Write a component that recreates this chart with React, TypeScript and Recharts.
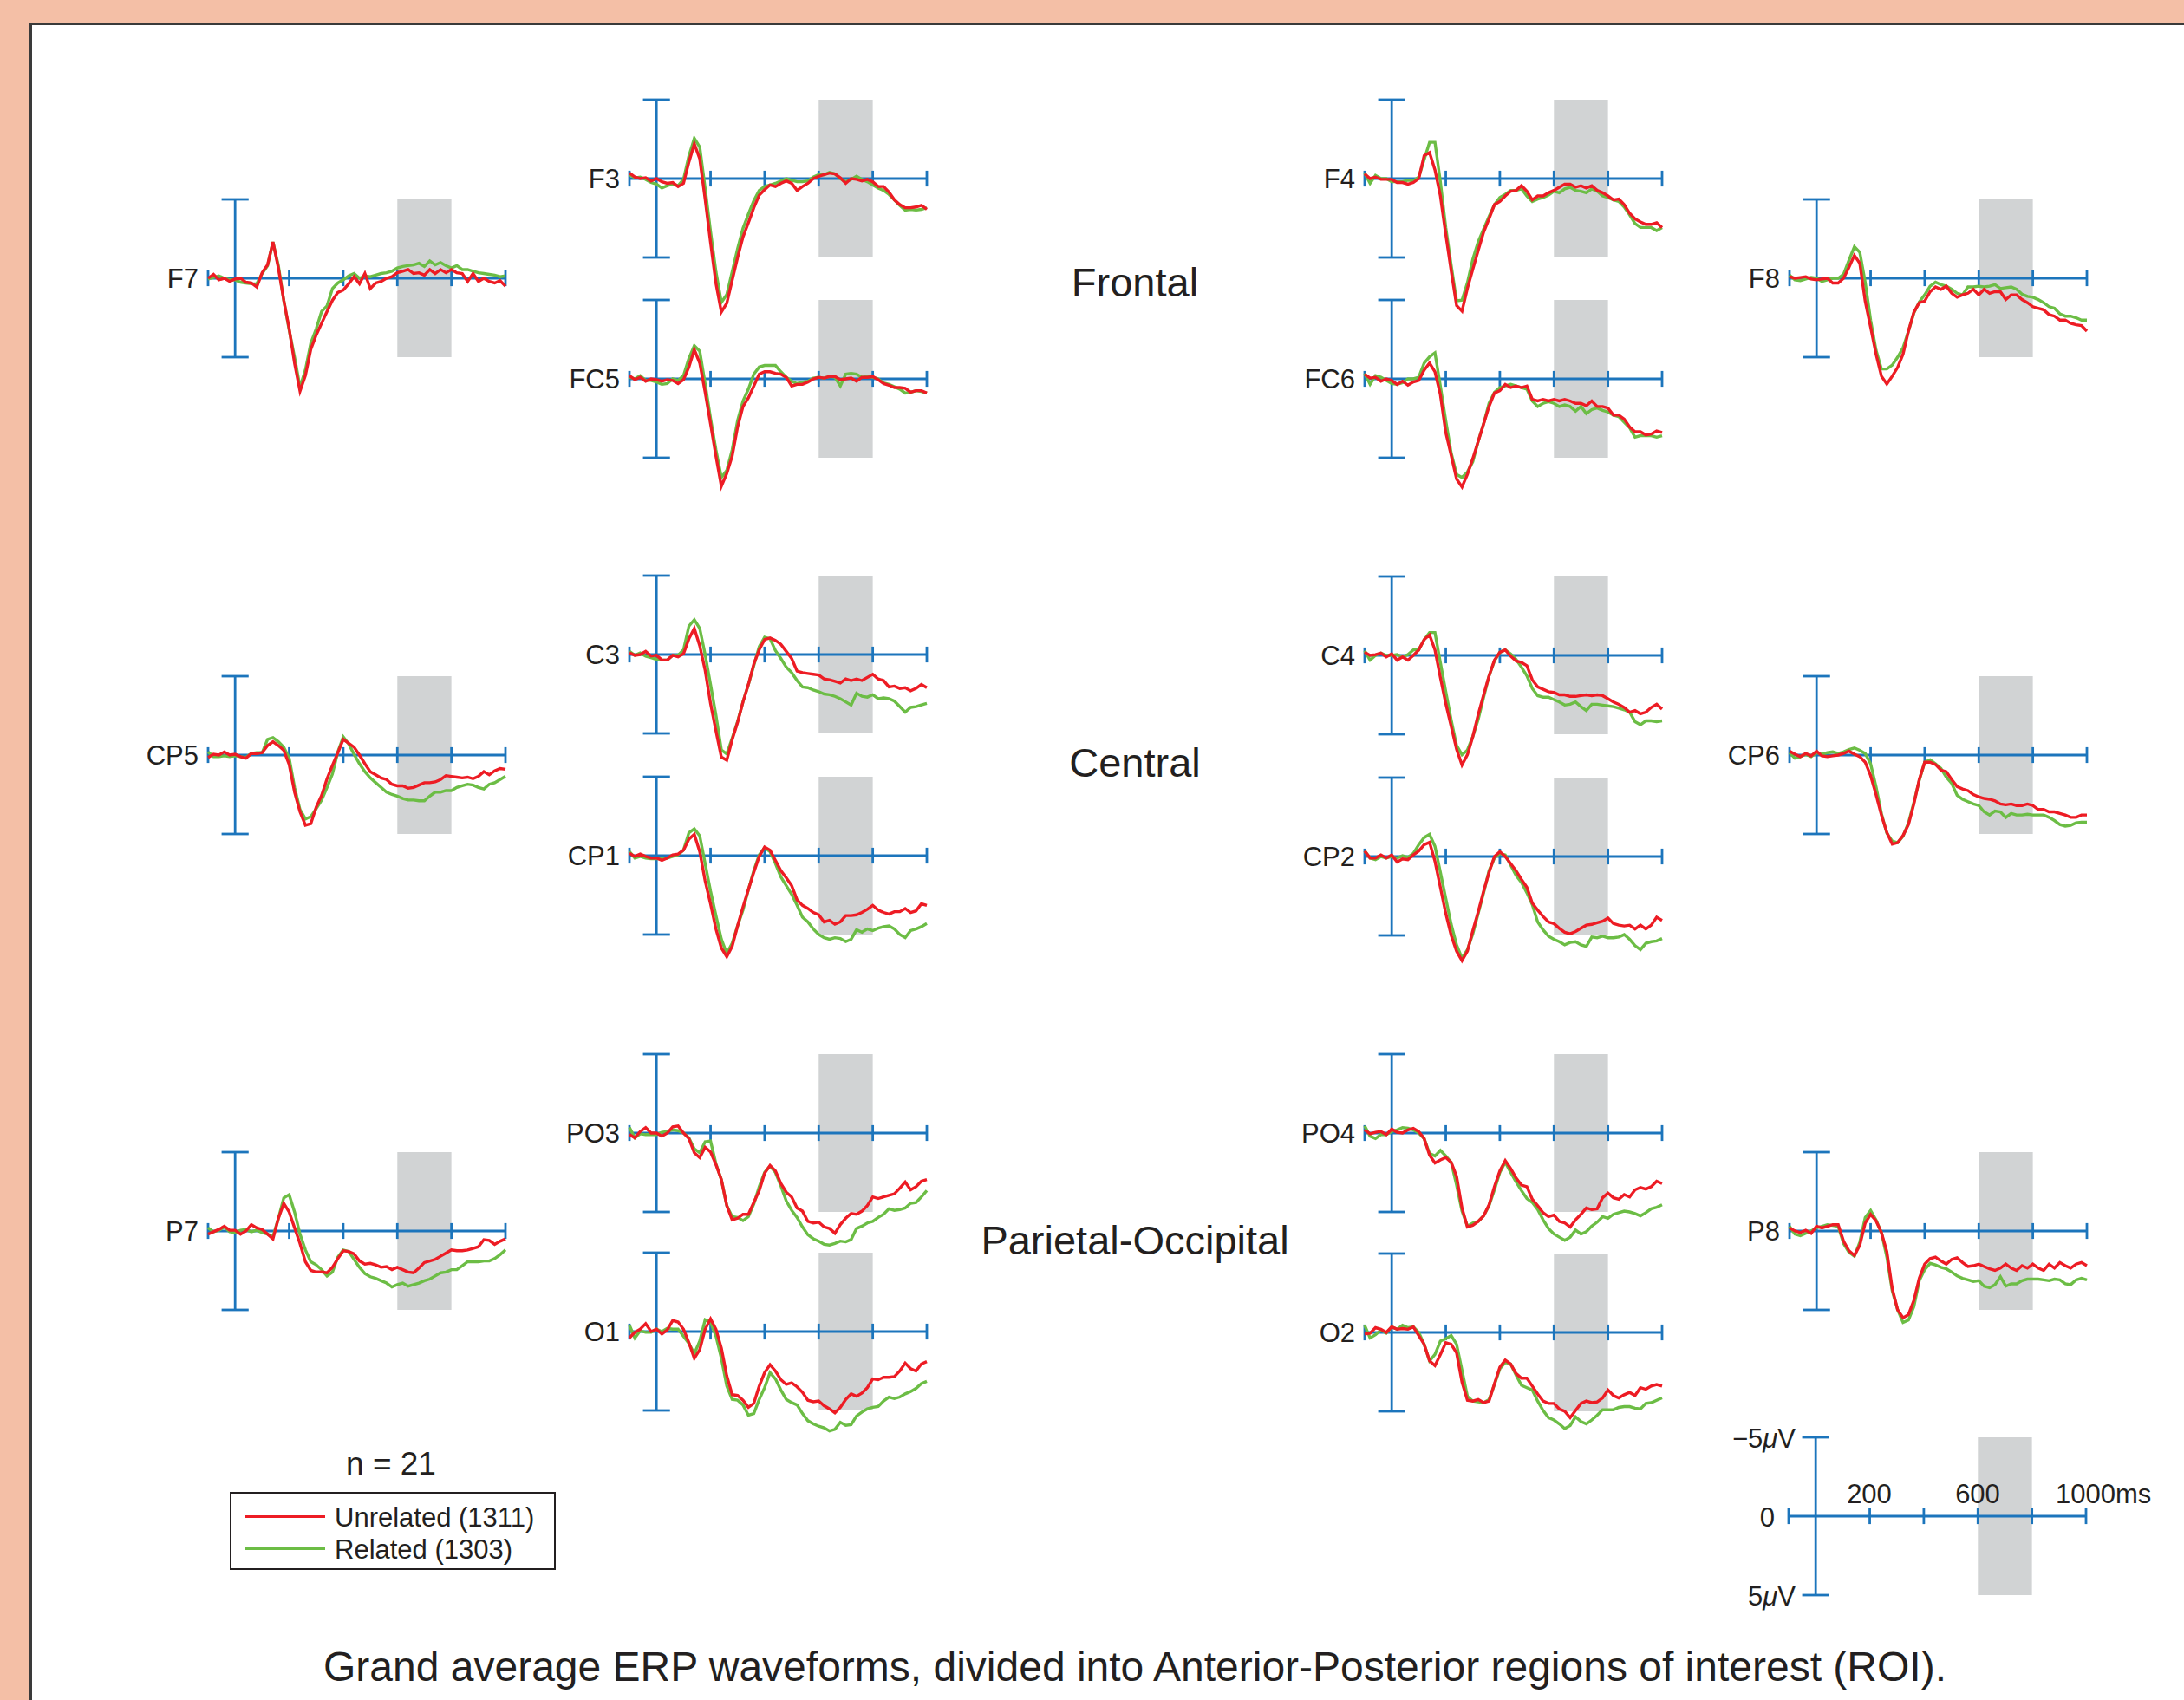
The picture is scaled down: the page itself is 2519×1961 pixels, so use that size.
import React from 'react'
import { LineChart, Line, XAxis, YAxis, ReferenceArea, ReferenceLine } from 'recharts'

// sample times (ms), one value every 20 ms
const TIMES = [
  -100, -80, -60, -40, -20, 0, 20, 40, 60, 80,
  100, 120, 140, 160, 180, 200, 220, 240, 260, 280,
  300, 320, 340, 360, 380, 400, 420, 440, 460, 480,
  500, 520, 540, 560, 580, 600, 620, 640, 660, 680,
  700, 720, 740, 760, 780, 800, 820, 840, 860, 880,
  900, 920, 940, 960, 980, 1000,
]

// amplitudes in µV (negative plotted up), UNREL = red, REL = green
const F7_UNREL = [
  0, -0.25, 0.1, 0, 0.2, 0.05, 0, 0.25, 0.3, 0.55,
  -0.35, -0.85, -2.3, -0.65, 1.4, 3.2, 5.4, 7.15, 6.15, 4.5,
  3.6, 2.85, 2.1, 1.4, 0.9, 0.75, 0.35, -0.1, 0.35, -0.3,
  0.65, 0.3, 0.2, 0, -0.1, -0.35, -0.45, -0.55, -0.3, -0.35,
  -0.2, -0.55, -0.3, -0.55, -0.35, -0.55, -0.35, -0.3, 0.2, -0.3,
  0.2, 0, 0.2, 0.3, 0.15, 0.5,
]
const F7_REL = [
  0.05, -0.05, -0.15, 0, 0.1, 0.1, 0.25, 0.3, 0.35, 0.35,
  -0.3, -0.8, -2.3, -0.8, 1.4, 3.3, 5.0, 6.9, 5.8, 4.1,
  3.2, 2.1, 1.75, 0.65, 0.3, 0.1, -0.15, -0.3, 0, -0.15,
  -0.1, -0.2, -0.3, -0.35, -0.45, -0.65, -0.75, -0.8, -0.85, -0.95,
  -0.75, -1.1, -0.85, -1.0, -0.8, -0.65, -0.8, -0.55, -0.55, -0.45,
  -0.35, -0.3, -0.25, -0.2, -0.1, -0.15,
]
const CP5_UNREL = [
  0.15, -0.05, 0, -0.2, 0, -0.05, 0.1, 0.2, -0.1, -0.1,
  -0.15, -0.6, -0.85, -0.6, -0.3, 0.6, 2.35, 3.6, 4.45, 4.35,
  3.3, 2.55, 1.5, 0.65, -0.15, -1.0, -0.75, -0.5, 0, 0.55,
  1.05, 1.25, 1.45, 1.55, 1.85, 1.95, 1.95, 2.1, 2.05, 1.9,
  1.75, 1.75, 1.7, 1.55, 1.3, 1.35, 1.4, 1.45, 1.4, 1.5,
  1.35, 1.05, 1.25, 1.0, 0.85, 0.9,
]
const CP5_REL = [
  -0.2, 0.1, 0.1, 0.05, 0.1, 0.05, 0.1, 0.15, -0.1, -0.15,
  -0.15, -1.0, -1.1, -0.85, -0.5, 0.2, 2.05, 3.45, 4.05, 3.9,
  3.4, 2.85, 2.05, 1.2, -0.2, -1.15, -0.7, -0.05, 0.55, 1.05,
  1.45, 1.75, 2.05, 2.35, 2.5, 2.6, 2.75, 2.85, 2.85, 2.9,
  2.9, 2.6, 2.35, 2.35, 2.25, 2.25, 2.05, 1.95, 1.85, 1.9,
  2.05, 2.15, 1.85, 1.75, 1.55, 1.35,
]
const P7_UNREL = [
  0.2, 0.05, -0.1, -0.3, -0.05, -0.05, 0.2, 0, -0.4, -0.2,
  -0.1, 0.2, 0.5, -0.8, -1.75, -1.2, -0.2, 0.8, 1.95, 2.5,
  2.6, 2.6, 2.65, 2.3, 1.75, 1.25, 1.3, 1.45, 1.9, 2.1,
  2.05, 2.15, 2.3, 2.25, 2.45, 2.3, 2.45, 2.6, 2.65, 2.35,
  2.0, 1.9, 1.8, 1.6, 1.4, 1.2, 1.25, 1.25, 1.2, 1.1,
  1.0, 0.55, 0.6, 0.85, 0.65, 0.5,
]
const P7_REL = [
  -0.2, 0.05, -0.05, -0.25, 0.05, 0.1, -0.05, -0.1, 0.05, -0.05,
  0.1, 0.2, 0.35, -0.8, -2.1, -2.3, -1.2, 0.2, 1.2, 1.95,
  2.15, 2.45, 2.85, 2.6, 1.65, 1.2, 1.3, 1.8, 2.3, 2.7,
  2.9, 3.0, 3.15, 3.3, 3.55, 3.4, 3.3, 3.5, 3.4, 3.3,
  3.15, 3.05, 2.85, 2.65, 2.6, 2.45, 2.45, 2.2, 1.95, 1.95,
  1.95, 1.9, 1.9, 1.75, 1.5, 1.2,
]
const F3_UNREL = [
  -0.35, -0.1, 0, -0.05, 0.15, 0, 0.2, 0.3, 0.25, 0.5,
  0.3, -1.05, -2.2, -1.25, 1.3, 4.05, 6.65, 8.45, 7.9, 6.45,
  5.0, 3.7, 2.8, 1.85, 1.05, 0.7, 0.4, 0.5, 0.3, 0.15,
  0.3, 0.75, 0.5, 0.3, 0, -0.15, -0.25, -0.35, -0.3, -0.05,
  0.3, 0, 0.05, 0.15, 0.05, 0.2, 0.5, 0.5, 0.85, 1.35,
  1.65, 1.85, 1.85, 1.8, 1.7, 1.95,
]
const F3_REL = [
  -0.25, -0.05, -0.1, 0.05, 0.25, 0.35, 0.6, 0.45, 0.35, 0.45,
  0.05, -1.45, -2.55, -2.0, 0.6, 3.35, 5.9, 7.85, 7.35, 5.9,
  4.45, 3.15, 2.25, 1.4, 0.75, 0.5, 0.4, 0.3, 0.15, 0,
  0.1, 0.2, 0.2, 0.15, -0.1, -0.25, -0.25, -0.4, -0.3, 0,
  0.2, 0.05, -0.15, 0.05, 0.2, 0.4, 0.6, 0.75, 1.0, 1.35,
  1.7, 2.0, 1.95, 2.0, 1.95, 1.85,
]
const FC5_UNREL = [
  -0.2, 0.05, -0.1, 0.15, 0, 0.05, 0.15, 0.05, 0.1, 0.3,
  0.05, -0.75, -1.85, -1.0, 0.85, 2.85, 4.9, 6.8, 6.0, 4.9,
  3.05, 1.75, 1.2, 0.45, -0.3, -0.45, -0.45, -0.35, -0.3, -0.1,
  0.45, 0.35, 0.35, 0.2, 0, -0.1, -0.05, -0.15, -0.15, 0.05,
  0, -0.05, 0.15, -0.1, -0.1, -0.15, 0.05, 0.3, 0.4, 0.55,
  0.55, 0.6, 0.85, 0.75, 0.75, 0.9,
]
const FC5_REL = [
  -0.1, 0, -0.2, 0.1, 0.1, 0.2, 0.35, 0.3, 0, 0.1,
  -0.2, -1.3, -2.1, -1.75, 0.3, 2.5, 4.5, 6.25, 5.8, 4.5,
  2.65, 1.4, 0.65, -0.3, -0.75, -0.85, -0.85, -0.85, -0.45, -0.1,
  0.15, 0.3, 0.2, 0.15, -0.05, -0.1, -0.05, -0.15, -0.1, 0.45,
  -0.3, -0.35, -0.3, -0.1, -0.15, -0.1, 0, 0.25, 0.35, 0.5,
  0.65, 0.9, 0.85, 0.75, 0.8, 0.9,
]
const C3_UNREL = [
  -0.1, 0.05, 0, -0.2, 0.1, 0.05, 0.35, 0.35, 0.05, 0.15,
  -0.05, -1.0, -1.65, -0.55, 1.0, 3.1, 4.85, 6.5, 6.7, 5.4,
  4.3, 3.0, 1.9, 0.6, -0.3, -0.95, -1.05, -0.9, -0.65, -0.2,
  0.25, 1.05, 1.15, 1.2, 1.25, 1.3, 1.55, 1.6, 1.7, 1.8,
  1.55, 1.65, 1.55, 1.65, 1.45, 1.25, 1.55, 1.65, 2.05, 2.0,
  2.15, 2.1, 2.3, 2.15, 1.9, 2.1,
]
const C3_REL = [
  -0.2, 0.05, -0.1, 0.1, 0.2, 0.3, 0.35, 0.35, 0.05, 0.05,
  -0.3, -1.8, -2.2, -1.65, 0, 1.9, 3.85, 6.05, 6.3, 5.3,
  4.25, 3.0, 1.9, 0.7, -0.5, -1.1, -1.0, -0.25, 0.25, 0.8,
  1.15, 1.65, 2.05, 2.1, 2.25, 2.35, 2.5, 2.55, 2.65, 2.8,
  3.0, 3.2, 2.45, 2.65, 2.7, 2.55, 2.8, 2.75, 2.8, 2.95,
  3.3, 3.65, 3.35, 3.3, 3.2, 3.1,
]
const CP1_UNREL = [
  -0.15, 0.05, -0.1, 0.05, 0.15, 0.15, 0.3, 0.15, -0.05, -0.1,
  -0.35, -1.05, -1.35, -0.25, 1.6, 3.05, 4.65, 5.85, 6.4, 5.75,
  4.45, 3.25, 2.15, 1.05, 0.05, -0.55, -0.35, 0.3, 0.95, 1.4,
  1.9, 2.8, 3.15, 3.35, 3.6, 3.75, 4.2, 4.1, 4.35, 4.2,
  3.8, 3.8, 3.75, 3.6, 3.4, 3.15, 3.45, 3.6, 3.7, 3.55,
  3.55, 3.35, 3.6, 3.5, 3.05, 3.15,
]
const CP1_REL = [
  -0.25, 0.15, 0.05, 0.15, 0.2, 0.2, 0.2, 0.15, 0.05, -0.05,
  -0.35, -1.45, -1.7, -1.25, 0.5, 2.25, 3.8, 5.3, 6.2, 5.55,
  4.45, 3.45, 2.15, 0.95, -0.05, -0.5, -0.25, 0.5, 1.35, 1.9,
  2.45, 3.15, 3.9, 4.2, 4.65, 5.0, 5.2, 5.3, 5.2, 5.25,
  5.45, 5.3, 4.7, 4.85, 4.65, 4.75, 4.6, 4.5, 4.45, 4.65,
  5.0, 5.2, 4.75, 4.65, 4.5, 4.3,
]
const PO3_UNREL = [
  0.1, 0.3, -0.1, -0.35, 0, 0, 0.2, 0, -0.4, -0.45,
  0, 0.35, 1.25, 1.55, 0.9, 1.2, 2.0, 2.95, 4.6, 5.5,
  5.4, 5.15, 5.15, 4.4, 3.65, 2.55, 2.05, 2.4, 3.2, 3.75,
  4.05, 4.75, 4.95, 5.6, 5.7, 5.65, 5.95, 6.05, 6.35, 5.8,
  5.4, 5.1, 5.15, 4.95, 4.6, 4.05, 4.15, 4.05, 3.95, 3.85,
  3.5, 3.1, 3.6, 3.4, 3.05, 2.95,
]
const PO3_REL = [
  -0.35, 0.3, 0.05, 0.1, 0.1, 0.1, -0.05, -0.1, -0.2, -0.15,
  0, 0.3, 1.0, 1.25, 0.55, 0.5, 1.95, 2.95, 4.6, 5.3,
  5.35, 5.55, 5.3, 4.5, 3.4, 2.5, 2.1, 2.5, 3.35, 4.3,
  4.9, 5.35, 5.95, 6.45, 6.7, 6.85, 7.05, 7.1, 7.0, 6.85,
  6.9, 6.75, 6.05, 5.9, 5.7, 5.6, 5.35, 5.15, 4.8, 4.9,
  4.85, 4.75, 4.45, 4.4, 4.05, 3.65,
]
const O1_UNREL = [
  0.4, 0.05, -0.15, -0.5, 0, -0.15, 0.15, -0.1, -0.7, -0.6,
  -0.15, 0.7, 1.7, 1.15, -0.15, -0.8, -0.15, 1.05, 2.8, 4.0,
  4.05, 4.35, 4.8, 4.55, 3.45, 2.6, 2.1, 2.5, 3.05, 3.35,
  3.25, 3.5, 3.85, 4.35, 4.45, 4.4, 4.7, 4.9, 5.15, 4.8,
  4.3, 3.95, 4.1, 3.9, 3.55, 3.0, 3.05, 2.9, 2.9, 2.85,
  2.5, 2.0, 2.35, 2.5, 2.05, 1.9,
]
const O1_REL = [
  -0.4, 0.4, -0.05, 0.05, 0.05, -0.15, 0, -0.2, -0.15, -0.15,
  0.3, 0.75, 1.4, 0.6, -0.75, -0.6, 0.3, 1.7, 3.45, 4.3,
  4.35, 4.65, 5.3, 5.2, 4.3, 3.55, 2.6, 3.0, 3.7, 4.3,
  4.5, 4.65, 5.2, 5.65, 5.85, 6.0, 6.1, 6.3, 6.2, 5.75,
  5.95, 5.9, 5.35, 5.1, 4.9, 4.8, 4.75, 4.4, 4.15, 4.25,
  4.15, 3.95, 3.8, 3.6, 3.3, 3.15,
]
const F4_UNREL = [
  -0.3, 0, -0.1, 0.05, 0.05, 0.05, 0.25, 0.25, 0.35, 0.25,
  0, -1.45, -1.65, -0.55, 1.1, 3.55, 5.85, 8.05, 8.4, 6.95,
  5.75, 4.55, 3.4, 2.55, 1.65, 1.45, 1.1, 0.8, 0.75, 0.45,
  0.8, 1.35, 1.1, 1.1, 0.9, 0.75, 0.55, 0.35, 0.35, 0.55,
  0.45, 0.6, 0.45, 0.75, 0.9, 1.1, 1.35, 1.3, 1.65, 2.2,
  2.55, 2.75, 2.9, 2.9, 2.8, 3.1,
]
const F4_REL = [
  -0.35, 0.3, -0.2, 0, 0, 0.2, 0.2, 0.2, 0.1, 0.15,
  -0.1, -1.2, -2.3, -2.3, 0.2, 3.1, 5.5, 7.75, 7.7, 6.6,
  5.1, 4.0, 3.2, 2.4, 1.65, 1.2, 1.0, 0.75, 0.75, 0.65,
  1.1, 1.45, 1.3, 1.2, 1.05, 0.8, 0.9, 0.65, 0.55, 0.75,
  0.8, 0.9, 0.65, 0.8, 1.1, 1.2, 1.35, 1.45, 1.8, 2.3,
  2.85, 3.1, 3.1, 3.1, 3.3, 3.1,
]
const FC6_UNREL = [
  -0.3, -0.05, -0.1, 0.15, 0, 0.1, 0.35, 0.15, 0.4, 0.2,
  0.1, -0.55, -1.0, -0.45, 1.0, 3.4, 4.85, 6.35, 6.85, 6.05,
  5.05, 3.95, 2.85, 1.75, 0.9, 0.75, 0.35, 0.55, 0.45, 0.55,
  0.45, 1.3, 1.4, 1.3, 1.4, 1.3, 1.4, 1.3, 1.4, 1.55,
  1.55, 1.7, 1.4, 1.75, 1.75, 1.85, 2.3, 2.3, 2.55, 3.05,
  3.35, 3.35, 3.55, 3.5, 3.3, 3.4,
]
const FC6_REL = [
  -0.35, 0.35, -0.2, -0.1, 0.1, 0.3, 0.35, 0.25, 0, 0,
  -0.1, -1.0, -1.4, -1.65, 0.45, 2.65, 4.7, 6.05, 6.25, 5.9,
  5.25, 3.95, 2.85, 1.55, 0.85, 0.55, 0.45, 0.35, 0.45, 0.55,
  0.65, 1.4, 1.75, 1.55, 1.45, 1.55, 1.75, 1.65, 1.75, 2.05,
  1.75, 2.2, 1.95, 1.85, 2.0, 2.1, 2.3, 2.4, 2.75, 3.1,
  3.7, 3.6, 3.6, 3.6, 3.7, 3.6,
]
const C4_UNREL = [
  -0.2, 0, -0.05, -0.15, 0.1, -0.1, 0.3, 0.1, 0.3, 0,
  -0.35, -1.0, -1.3, -0.35, 1.4, 3.05, 4.5, 5.95, 6.95, 6.3,
  5.15, 3.75, 2.5, 1.3, 0.3, -0.2, -0.35, 0.05, 0.35, 0.45,
  0.65, 1.55, 2.0, 2.15, 2.3, 2.35, 2.5, 2.5, 2.6, 2.6,
  2.55, 2.5, 2.55, 2.5, 2.55, 2.75, 2.95, 3.1, 3.3, 3.6,
  3.5, 3.7, 3.6, 3.3, 3.1, 3.4,
]
const C4_REL = [
  -0.3, 0.3, 0, -0.15, 0, 0, -0.05, 0.1, -0.05, -0.35,
  -0.35, -1.0, -1.45, -1.45, 0.45, 2.3, 4.1, 5.7, 6.3, 6.0,
  5.15, 4.05, 2.65, 1.3, 0.35, -0.2, -0.35, -0.1, 0.25, 0.75,
  1.3, 2.1, 2.55, 2.65, 2.65, 2.8, 2.95, 3.15, 3.1, 2.95,
  3.25, 3.5, 3.1, 3.1, 3.15, 3.2, 3.25, 3.35, 3.45, 3.6,
  4.2, 4.4, 4.15, 4.15, 4.2, 4.15,
]
const CP2_UNREL = [
  -0.35, 0.1, 0.1, -0.1, 0.1, -0.1, 0.35, 0.15, 0.2, -0.1,
  -0.35, -0.75, -0.9, 0.3, 1.95, 3.6, 5.0, 6.0, 6.6, 6.0,
  4.7, 3.5, 2.2, 1.0, 0, -0.3, 0, 0.45, 0.9, 1.45,
  1.95, 2.95, 3.4, 3.8, 4.15, 4.25, 4.55, 4.8, 4.9, 4.75,
  4.55, 4.35, 4.3, 4.2, 4.1, 3.9, 4.25, 4.35, 4.4, 4.35,
  4.6, 4.35, 4.6, 4.35, 3.85, 4.05,
]
const CP2_REL = [
  -0.35, 0.1, 0.2, 0, 0.1, 0, 0.1, -0.05, 0.05, -0.2,
  -0.75, -1.2, -1.4, -0.65, 1.0, 2.65, 4.3, 5.6, 6.45, 5.9,
  4.9, 3.6, 2.3, 0.9, 0.1, -0.2, -0.1, 0.55, 1.2, 1.65,
  2.3, 3.05, 4.15, 4.65, 5.05, 5.25, 5.4, 5.6, 5.45, 5.4,
  5.6, 5.7, 5.1, 5.15, 5.05, 5.15, 5.15, 5.1, 4.95, 5.25,
  5.65, 5.9, 5.5, 5.4, 5.35, 5.2,
]
const PO4_UNREL = [
  -0.2, 0.05, -0.05, -0.1, 0.1, -0.25, -0.05, 0, -0.2, -0.3,
  -0.1, 0.35, 1.4, 1.9, 1.7, 1.55, 1.85, 2.75, 4.75, 5.95,
  5.85, 5.6, 5.25, 4.55, 3.4, 2.4, 1.75, 2.25, 2.85, 3.3,
  3.4, 4.2, 4.6, 5.05, 5.3, 5.2, 5.6, 5.7, 5.95, 5.5,
  5.15, 4.75, 4.85, 4.8, 4.1, 3.8, 4.1, 4.2, 3.9, 4.05,
  3.6, 3.45, 3.55, 3.4, 3.05, 3.2,
]
const PO4_REL = [
  -0.45, 0.2, 0.35, 0.1, 0.1, -0.1, -0.2, -0.35, -0.3, -0.2,
  0, 0.35, 1.3, 1.45, 1.1, 1.45, 1.85, 3.3, 4.95, 5.9,
  5.7, 5.6, 5.25, 4.6, 3.6, 2.5, 1.85, 2.5, 3.1, 3.65,
  4.15, 4.4, 4.85, 5.5, 6.05, 6.4, 6.6, 6.8, 6.6, 6.15,
  6.4, 6.25, 5.9, 5.65, 5.3, 5.4, 5.15, 5.05, 4.95, 5.0,
  5.1, 5.25, 5.05, 4.8, 4.7, 4.55,
]
const O2_UNREL = [
  0.1, 0.05, -0.3, -0.2, 0, -0.35, -0.2, -0.25, -0.2, -0.35,
  0.2, 0.75, 1.8, 2.1, 1.4, 0.65, 0.75, 1.3, 3.15, 4.3,
  4.35, 4.25, 4.45, 4.35, 3.25, 2.2, 1.75, 2.0, 2.6, 2.9,
  2.9, 3.4, 3.9, 4.35, 4.5, 4.5, 4.85, 5.0, 5.4, 4.95,
  4.5, 4.35, 4.45, 4.4, 4.15, 3.65, 4.0, 4.15, 3.95, 3.8,
  4.0, 3.5, 3.6, 3.4, 3.3, 3.4,
]
const O2_REL = [
  -0.45, 0.35, 0.15, -0.15, 0.05, -0.35, -0.2, -0.45, -0.3, -0.35,
  0, 0.75, 1.8, 1.4, 0.55, 0.4, 0.2, 0.75, 2.4, 4.05,
  4.35, 4.4, 4.45, 4.25, 3.3, 2.3, 1.9, 2.0, 2.7, 3.35,
  3.5, 3.65, 4.35, 4.95, 5.4, 5.55, 5.8, 6.1, 5.9, 5.35,
  5.65, 5.8, 5.55, 5.25, 4.9, 4.9, 4.9, 4.75, 4.7, 4.7,
  4.8, 4.85, 4.5, 4.45, 4.3, 4.15,
]
const F8_UNREL = [
  -0.1, 0, -0.05, -0.1, 0.05, 0.1, 0.05, 0, 0.3, 0.3,
  0, -0.7, -1.45, -0.95, 1.45, 3.1, 4.8, 6.2, 6.7, 6.2,
  5.65, 4.8, 3.35, 2.15, 1.55, 1.45, 0.85, 0.55, 0.7, 0.5,
  0.95, 1.2, 1.05, 0.95, 0.7, 1.05, 0.7, 0.95, 0.85, 0.85,
  1.35, 1.05, 1.05, 1.35, 1.55, 1.8, 1.9, 2.0, 2.3, 2.4,
  2.65, 2.65, 2.85, 2.95, 3.0, 3.35,
]
const F8_REL = [
  -0.2, 0.1, 0.15, 0.05, -0.05, 0, 0.2, 0.1, 0, 0,
  -0.25, -1.15, -2.0, -1.65, 0.25, 2.65, 4.55, 5.75, 5.75, 5.5,
  5.0, 4.4, 3.35, 2.2, 1.5, 1.05, 0.5, 0.25, 0.4, 0.5,
  0.7, 0.95, 1.05, 0.55, 0.55, 0.5, 0.55, 0.5, 0.4, 0.65,
  0.6, 0.55, 0.7, 1.0, 1.15, 1.2, 1.35, 1.55, 1.8, 1.9,
  2.25, 2.4, 2.4, 2.5, 2.65, 2.65,
]
const CP6_UNREL = [
  -0.25, -0.05, 0.1, -0.1, 0.05, -0.25, 0.05, 0.1, 0.05, 0,
  -0.1, -0.25, -0.05, 0.1, 0.45, 1.3, 2.5, 3.8, 4.9, 5.65,
  5.55, 5.1, 4.4, 3.1, 1.55, 0.45, 0.45, 0.6, 0.95, 1.05,
  1.55, 2.0, 2.15, 2.25, 2.5, 2.65, 2.75, 2.8, 2.9, 3.1,
  3.15, 3.1, 3.2, 3.2, 3.1, 3.2, 3.45, 3.45, 3.6, 3.6,
  3.7, 3.8, 3.95, 3.95, 3.8, 3.8,
]
const CP6_REL = [
  -0.15, 0.2, 0.1, -0.05, 0.1, -0.15, -0.05, -0.15, -0.2, -0.1,
  -0.2, -0.35, -0.45, -0.3, -0.1, 0.55, 2.0, 3.7, 4.95, 5.45,
  5.55, 5.15, 4.3, 3.0, 1.6, 0.45, 0.3, 0.55, 0.85, 1.4,
  1.8, 2.55, 2.8, 2.95, 3.1, 3.2, 3.6, 3.8, 3.55, 3.6,
  3.95, 3.7, 3.8, 3.8, 3.75, 3.8, 3.8, 3.8, 3.95, 4.15,
  4.4, 4.5, 4.45, 4.3, 4.25, 4.25,
]
const P8_UNREL = [
  -0.2, 0, 0.1, -0.05, 0.15, -0.3, -0.2, -0.3, -0.4, -0.4,
  0.65, 1.25, 1.55, 0.9, -0.5, -1.05, -0.65, 0.1, 1.3, 3.65,
  5.0, 5.5, 5.3, 4.4, 3.0, 2.1, 1.75, 1.65, 1.9, 2.1,
  1.8, 1.7, 2.0, 2.25, 2.2, 2.1, 2.25, 2.4, 2.5, 2.35,
  2.1, 2.35, 2.5, 2.2, 2.35, 2.1, 2.35, 2.5, 2.1, 2.35,
  2.0, 2.2, 2.35, 2.1, 2.0, 2.2,
]
const P8_REL = [
  -0.3, 0.2, 0.3, 0.15, 0, -0.2, -0.3, -0.4, -0.35, -0.3,
  0.8, 1.35, 1.6, 0.7, -0.85, -1.3, -0.7, 0.1, 1.65, 3.8,
  5.0, 5.8, 5.65, 4.8, 3.15, 2.45, 2.05, 2.15, 2.3, 2.4,
  2.6, 2.85, 3.0, 3.1, 3.2, 3.15, 3.5, 3.6, 3.4, 2.9,
  3.5, 3.35, 3.35, 3.15, 3.05, 3.05, 3.05, 3.1, 3.15, 3.05,
  3.1, 3.35, 3.4, 3.1, 3.0, 3.1,
]

const X_TICKS = [-100, 200, 400, 600, 800, 1000]
const ROI_WINDOW = [600, 800]
const UV_BAR = 5
const REGION_TITLES = ['Frontal', 'Central', 'Parietal-Occipital']
const LEGEND_ITEMS = [
  { label: 'Unrelated (1311)', key: 'unrel' },
  { label: 'Related (1303)', key: 'rel' },
]

const BLUE = '#1c75bc'
const RED = '#ed1c24'
const GREEN = '#6cbd45'
const GRAY = '#d1d3d4'
const INK = '#231f20'
const FONT = '"Liberation Sans", Arial, Helvetica, sans-serif'

// panel geometry: 343px for -100..1000 ms, 18.2px per µV
const PLOT_W = 343
const PX_UV = 18.2
const Y_MAX = 10
const PAD = 12
const HALF_H = Y_MAX * PX_UV

const PANELS = [
  { name: 'F7', x: 240, zero: 321, unrel: F7_UNREL, rel: F7_REL },
  { name: 'CP5', x: 240, zero: 871, unrel: CP5_UNREL, rel: CP5_REL },
  { name: 'P7', x: 240, zero: 1420, unrel: P7_UNREL, rel: P7_REL },
  { name: 'F3', x: 726, zero: 206, unrel: F3_UNREL, rel: F3_REL },
  { name: 'FC5', x: 726, zero: 437, unrel: FC5_UNREL, rel: FC5_REL },
  { name: 'C3', x: 726, zero: 755, unrel: C3_UNREL, rel: C3_REL },
  { name: 'CP1', x: 726, zero: 987, unrel: CP1_UNREL, rel: CP1_REL },
  { name: 'PO3', x: 726, zero: 1307, unrel: PO3_UNREL, rel: PO3_REL },
  { name: 'O1', x: 726, zero: 1536, unrel: O1_UNREL, rel: O1_REL },
  { name: 'F4', x: 1574, zero: 206, unrel: F4_UNREL, rel: F4_REL },
  { name: 'FC6', x: 1574, zero: 437, unrel: FC6_UNREL, rel: FC6_REL },
  { name: 'C4', x: 1574, zero: 756, unrel: C4_UNREL, rel: C4_REL },
  { name: 'CP2', x: 1574, zero: 988, unrel: CP2_UNREL, rel: CP2_REL },
  { name: 'PO4', x: 1574, zero: 1307, unrel: PO4_UNREL, rel: PO4_REL },
  { name: 'O2', x: 1574, zero: 1537, unrel: O2_UNREL, rel: O2_REL },
  { name: 'F8', x: 2064, zero: 321, unrel: F8_UNREL, rel: F8_REL },
  { name: 'CP6', x: 2064, zero: 871, unrel: CP6_UNREL, rel: CP6_REL },
  { name: 'P8', x: 2064, zero: 1420, unrel: P8_UNREL, rel: P8_REL },
]

const txt: React.CSSProperties = {
  position: 'absolute',
  fontFamily: FONT,
  color: INK,
  whiteSpace: 'nowrap',
  lineHeight: 1,
}

function ErpPanel({ x, zero, unrel, rel }: { x: number; zero: number; unrel?: number[]; rel?: number[] }) {
  const isKey = !unrel
  const data = TIMES.map((t, i) => ({
    t,
    unrel: unrel ? unrel[i] : null,
    rel: rel ? rel[i] : null,
  }))
  const axisLine = { stroke: BLUE, strokeWidth: 2.8 }
  return (
    <div style={{ position: 'absolute', left: x - PAD, top: zero - HALF_H - PAD }}>
      <LineChart
        width={PLOT_W + 2 * PAD}
        height={2 * HALF_H + 2 * PAD}
        data={data}
        margin={{ top: PAD, right: PAD, bottom: PAD, left: PAD }}
      >
        <XAxis type="number" dataKey="t" domain={[-100, 1000]} allowDataOverflow={isKey} hide />
        <YAxis type="number" domain={[-Y_MAX, Y_MAX]} allowDataOverflow={isKey} reversed hide />
        <ReferenceArea
          x1={ROI_WINDOW[0]}
          x2={ROI_WINDOW[1]}
          y1={-UV_BAR}
          y2={UV_BAR}
          fill={GRAY}
          fillOpacity={1}
          stroke="none"
        />
        <ReferenceLine segment={[{ x: -100, y: 0 }, { x: 1000, y: 0 }]} {...axisLine} />
        <ReferenceLine segment={[{ x: 0, y: -UV_BAR }, { x: 0, y: UV_BAR }]} {...axisLine} />
        <ReferenceLine segment={[{ x: -50, y: -UV_BAR }, { x: 50, y: -UV_BAR }]} {...axisLine} />
        <ReferenceLine segment={[{ x: -50, y: UV_BAR }, { x: 50, y: UV_BAR }]} {...axisLine} />
        {X_TICKS.map((t) => (
          <ReferenceLine key={t} segment={[{ x: t, y: -0.5 }, { x: t, y: 0.5 }]} {...axisLine} />
        ))}
        {/* green first so red sits on top */}
        <Line
          type="linear"
          dataKey="rel"
          stroke={rel ? GREEN : 'none'}
          strokeWidth={3.4}
          dot={false}
          isAnimationActive={false}
        />
        <Line
          type="linear"
          dataKey="unrel"
          stroke={unrel ? RED : 'none'}
          strokeWidth={3.4}
          dot={false}
          isAnimationActive={false}
        />
      </LineChart>
    </div>
  )
}

export default function App() {
  const titleY = [325, 879, 1430]
  return (
    <div
      style={{
        position: 'absolute',
        left: 0,
        top: 0,
        width: 2519,
        height: 1961,
        overflow: 'hidden',
        background: '#f4bfa6',
      }}
    >
      <div
        style={{
          position: 'absolute',
          left: 34,
          top: 26,
          width: 2600,
          height: 2000,
          background: '#ffffff',
          borderTop: '3px solid #3a3a3a',
          borderLeft: '3px solid #3a3a3a',
        }}
      />

      {PANELS.map((p) => (
        <React.Fragment key={p.name}>
          <ErpPanel x={p.x} zero={p.zero} unrel={p.unrel} rel={p.rel} />
          <div style={{ ...txt, fontSize: 31, left: p.x - 11, top: p.zero, transform: 'translate(-100%, -50%)' }}>
            {p.name}
          </div>
        </React.Fragment>
      ))}

      {REGION_TITLES.map((t, i) => (
        <div key={t} style={{ ...txt, fontSize: 47, left: 1309, top: titleY[i], transform: 'translate(-50%, -50%)' }}>
          {t}
        </div>
      ))}

      {/* calibration panel */}
      <ErpPanel x={2063} zero={1749} />
      <div style={{ ...txt, fontSize: 31, left: 2071, top: 1659, transform: 'translate(-100%, -50%)' }}>
        −5<i>μ</i>V
      </div>
      <div style={{ ...txt, fontSize: 31, left: 2047, top: 1750, transform: 'translate(-100%, -50%)' }}>0</div>
      <div style={{ ...txt, fontSize: 31, left: 2071, top: 1841, transform: 'translate(-100%, -50%)' }}>
        5<i>μ</i>V
      </div>
      <div style={{ ...txt, fontSize: 31, left: 2156, top: 1723, transform: 'translate(-50%, -50%)' }}>200</div>
      <div style={{ ...txt, fontSize: 31, left: 2281, top: 1723, transform: 'translate(-50%, -50%)' }}>600</div>
      <div style={{ ...txt, fontSize: 31, left: 2371, top: 1723, transform: 'translate(0, -50%)' }}>1000ms</div>

      {/* legend */}
      <div style={{ ...txt, fontSize: 37, left: 451, top: 1688, transform: 'translate(-50%, -50%)' }}>n = 21</div>
      <div
        style={{
          position: 'absolute',
          left: 265,
          top: 1721,
          width: 372,
          height: 86,
          border: '2px solid ' + INK,
        }}
      >
        {LEGEND_ITEMS.map((it, i) => (
          <React.Fragment key={it.key}>
            <div
              style={{
                position: 'absolute',
                left: 16,
                top: 25 + i * 37,
                width: 92,
                height: 3,
                background: it.key === 'unrel' ? RED : GREEN,
              }}
            />
            <div style={{ ...txt, fontSize: 31, left: 119, top: 27 + i * 37, transform: 'translate(0, -50%)' }}>
              {it.label}
            </div>
          </React.Fragment>
        ))}
      </div>

      <div style={{ ...txt, fontSize: 48, left: 1309, top: 1923, transform: 'translate(-50%, -50%)' }}>
        Grand average ERP waveforms, divided into Anterior-Posterior regions of interest (ROI).
      </div>
    </div>
  )
}
